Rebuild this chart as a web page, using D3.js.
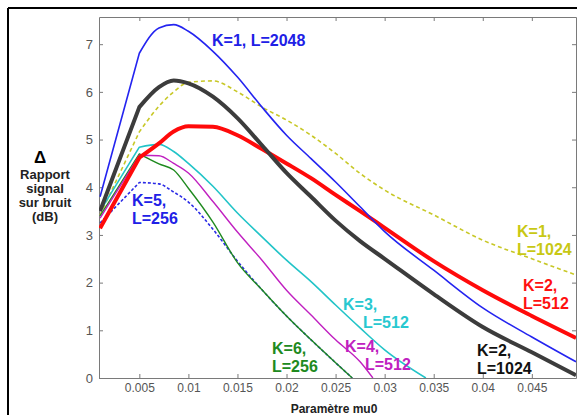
<!DOCTYPE html>
<html>
<head>
<meta charset="utf-8">
<script src="https://cdn.jsdelivr.net/npm/d3@7/dist/d3.min.js"></script>
<style>
  html, body { margin: 0; padding: 0; background: #ffffff; }
  svg { display: block; }
  text { font-family: "Liberation Sans", Arial, sans-serif; }
</style>
</head>
<body>
<svg id="chart" width="577" height="415"></svg>
<script>
// ---- data ----
const mu0 = [0.001, 0.005, 0.007, 0.0085, 0.01, 0.0125, 0.015, 0.0175, 0.02, 0.0225, 0.025, 0.0275, 0.03, 0.035, 0.04, 0.045, 0.0495];
const k1L2048 = [3.8, 6.81, 7.34, 7.41, 7.27, 6.85, 6.31, 5.68, 5.09, 4.6, 4.11, 3.59, 3.07, 2.26, 1.47, 0.86, 0.34];
const k2L1024 = [3.5, 5.68, 6.1, 6.24, 6.18, 5.9, 5.45, 4.88, 4.3, 3.8, 3.3, 2.87, 2.5, 1.76, 1.07, 0.54, 0.06];
const k2L512  = [3.14, 4.62, 4.92, 5.17, 5.28, 5.27, 5.09, 4.8, 4.5, 4.19, 3.84, 3.5, 3.15, 2.45, 1.84, 1.3, 0.84];
const k1L1024 = [3.42, 5.16, 5.7, 6.0, 6.2, 6.23, 6.0, 5.68, 5.41, 5.09, 4.71, 4.29, 3.94, 3.42, 2.89, 2.5, 2.16];

const mu0K3 = [0.001, 0.005, 0.007, 0.0085, 0.01, 0.0125, 0.015, 0.0175, 0.02, 0.0225, 0.025, 0.0275, 0.03, 0.0342];
const k3L512 = [3.5, 4.84, 4.9, 4.75, 4.5, 4.02, 3.46, 2.96, 2.47, 2.02, 1.53, 1.05, 0.59, 0.0];

const mu0K4 = [0.001, 0.005, 0.007, 0.0085, 0.01, 0.0125, 0.015, 0.0175, 0.02, 0.0225, 0.025, 0.0275, 0.0288];
const k4L512 = [3.35, 4.67, 4.66, 4.5, 4.3, 3.7, 3.06, 2.47, 1.84, 1.32, 0.8, 0.34, 0.0];

const mu0K6 = [0.001, 0.005, 0.007, 0.0085, 0.01, 0.0125, 0.015, 0.0175, 0.02, 0.0225, 0.025, 0.0267];
const k6L256 = [3.4, 4.7, 4.49, 4.36, 3.98, 3.27, 2.42, 1.85, 1.3, 0.8, 0.32, 0.0];
const k5L256 = [3.25, 4.1, 4.07, 3.9, 3.69, 3.12, 2.45, 1.85, 1.3, 0.8, 0.32, 0.0];

const xTicks = [0.005, 0.01, 0.015, 0.02, 0.025, 0.03, 0.035, 0.04, 0.045];
const xTickLabels = ["0.005", "0.01", "0.015", "0.02", "0.025", "0.03", "0.035", "0.04", "0.045"];
const yTicks = [0, 1, 2, 3, 4, 5, 6, 7];

// ---- layout ----
const svg = d3.select("#chart");
const L = 99, R = 576, T = 17, B = 378;

const x = d3.scaleLinear().domain([0.00089, 0.0495]).range([L, R]);
const y = d3.scaleLinear().domain([0, 7.57]).range([B, T]);

// outer frame (top and left black border)
svg.append("line").attr("x1", 8).attr("x2", 577).attr("y1", 8).attr("y2", 8)
  .attr("stroke", "#000").attr("stroke-width", 2);
svg.append("line").attr("x1", 8).attr("x2", 8).attr("y1", 8).attr("y2", 415)
  .attr("stroke", "#000").attr("stroke-width", 2);

// plot background
svg.append("rect").attr("x", L).attr("y", T).attr("width", R - L).attr("height", B - T)
  .attr("fill", "#ffffff");

svg.append("defs").append("clipPath").attr("id", "clip")
  .append("rect").attr("x", L).attr("y", T).attr("width", R - L).attr("height", B - T);

// axes
const axisColor = "#7a7a7a";
function styleAxis(g) {
  g.select(".domain").attr("stroke", axisColor);
  g.selectAll(".tick line").attr("stroke", axisColor);
  g.selectAll(".tick text").attr("fill", "#555").attr("font-size", 12);
}
svg.append("g").attr("transform", `translate(0,${B})`)
  .call(d3.axisBottom(x).tickValues(xTicks).tickFormat((d, i) => xTickLabels[i])
    .tickSizeInner(-4).tickSizeOuter(0).tickPadding(5))
  .call(styleAxis);
svg.append("g").attr("transform", `translate(0,${T})`)
  .call(d3.axisTop(x).tickValues(xTicks).tickFormat("").tickSizeInner(-4).tickSizeOuter(0))
  .call(styleAxis);
svg.append("g").attr("transform", `translate(${L},0)`)
  .call(d3.axisLeft(y).tickValues(yTicks).tickFormat(d3.format("d"))
    .tickSizeInner(-4).tickSizeOuter(0).tickPadding(6))
  .call(styleAxis)
  .call(g => g.selectAll(".tick text").attr("font-size", 13));
svg.append("g").attr("transform", `translate(${R},0)`)
  .call(d3.axisRight(y).tickValues(yTicks).tickFormat("").tickSizeInner(-4).tickSizeOuter(0))
  .call(styleAxis);

// series
const series = [
  { xs: mu0,   ys: k1L1024, color: "#c8c828", width: 1.6, dash: "4,3" },
  { xs: mu0K6, ys: k5L256,  color: "#2a2ae6", width: 1.6, dash: "3,2" },
  { xs: mu0K6, ys: k6L256,  color: "#1f8a1f", width: 1.4, dash: null },
  { xs: mu0K4, ys: k4L512,  color: "#c020c0", width: 1.4, dash: null },
  { xs: mu0K3, ys: k3L512,  color: "#22c4c8", width: 1.6, dash: null },
  { xs: mu0,   ys: k2L512,  color: "#ff0a0a", width: 4,   dash: null },
  { xs: mu0,   ys: k2L1024, color: "#3c3c3c", width: 4,   dash: null },
  { xs: mu0,   ys: k1L2048, color: "#2424f0", width: 1.6, dash: null }
];
// straight first segment (0.001 -> 0.005), smooth curve afterwards
const lineLin = d3.line().x(d => x(d[0])).y(d => y(d[1]));
const lineSmooth = d3.line().x(d => x(d[0])).y(d => y(d[1])).curve(d3.curveMonotoneX);
const plot = svg.append("g").attr("clip-path", "url(#clip)");
series.forEach(s => {
  const pts = s.xs.map((v, i) => [v, s.ys[i]]);
  const d = lineLin(pts.slice(0, 2)) + lineSmooth(pts.slice(1)).replace(/^M/, "L");
  plot.append("path")
    .attr("d", d)
    .attr("fill", "none")
    .attr("stroke", s.color)
    .attr("stroke-width", s.width)
    .attr("stroke-linejoin", "round")
    .attr("stroke-dasharray", s.dash);
});

// curve labels (second line indent in px)
const labels = [
  { lines: ["K=1, L=2048"], x: 212, y: 46, color: "#2020e6", indent: 0 },
  { lines: ["K=5,", "L=256"], x: 132, y: 206, color: "#2020e6", indent: 0 },
  { lines: ["K=1,", "L=1024"], x: 517, y: 237, color: "#c8c814", indent: 0 },
  { lines: ["K=2,", "L=512"], x: 523, y: 291, color: "#ff1010", indent: 0 },
  { lines: ["K=3,", "L=512"], x: 343, y: 310, color: "#28c8d0", indent: 20 },
  { lines: ["K=4,", "L=512"], x: 345, y: 352, color: "#c020c0", indent: 20 },
  { lines: ["K=6,", "L=256"], x: 272, y: 354, color: "#208a20", indent: 0 },
  { lines: ["K=2,", "L=1024"], x: 477, y: 356, color: "#111111", indent: 0 }
];
labels.forEach(lb => {
  const t = svg.append("text").attr("x", lb.x).attr("y", lb.y)
    .attr("fill", lb.color).attr("font-size", 16).attr("font-weight", "bold");
  lb.lines.forEach((s, i) => {
    t.append("tspan").attr("x", i === 0 ? lb.x : lb.x + lb.indent)
      .attr("dy", i === 0 ? 0 : 18).text(s);
  });
});

// y axis title
svg.append("text").attr("x", 40).attr("y", 163).attr("text-anchor", "middle")
  .attr("font-size", 17).attr("font-weight", "bold").attr("fill", "#000").text("Δ");
const yTitle = ["Rapport", "signal", "sur bruit", "(dB)"];
yTitle.forEach((s, i) => {
  svg.append("text").attr("x", 45).attr("y", 179 + i * 14).attr("text-anchor", "middle")
    .attr("font-size", 13).attr("font-weight", "bold").attr("fill", "#222").text(s);
});

// x axis title
svg.append("text").attr("x", 334).attr("y", 413).attr("text-anchor", "middle")
  .attr("font-size", 12).attr("font-weight", "bold").attr("fill", "#222").text("Paramètre mu0");
</script>
</body>
</html>
